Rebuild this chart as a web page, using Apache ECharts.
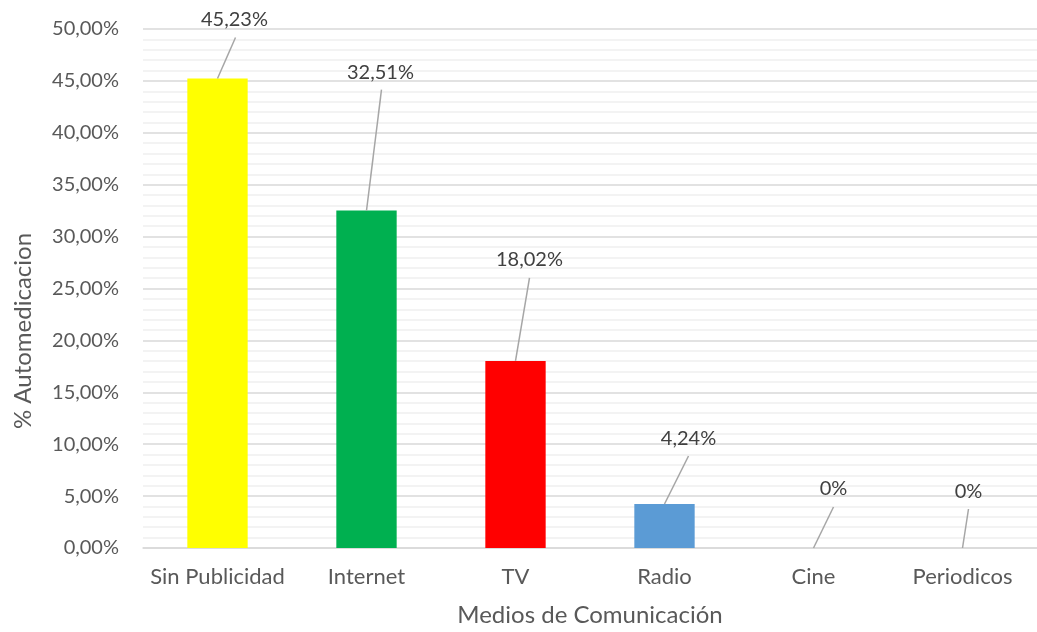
<!DOCTYPE html>
<html>
<head>
<meta charset="utf-8">
<script src="https://cdn.jsdelivr.net/npm/echarts@6/dist/echarts.min.js"></script>
<style>
  html, body { margin: 0; padding: 0; background: #ffffff; }
  #chart { width: 1037px; height: 632px; }
</style>
</head>
<body>
<div id="chart"></div>
<script>
// Medios de comunicación y porcentaje de automedicación
const categories = ['Sin Publicidad', 'Internet', 'TV', 'Radio', 'Cine', 'Periodicos'];
const percentValues = [45.23, 32.51, 18.02, 4.24, 0, 0];
const barColors = ['#FFFF00', '#00B050', '#FF0000', '#5B9BD5', '#5B9BD5', '#5B9BD5'];

// Callout placement relative to the top of each bar: end of leader line and label centre
const calloutOffsets = [
  { lx: 18, ly: -41, tx: 17, ty: -59 },
  { lx: 15, ly: -121, tx: 14, ty: -138 },
  { lx: 14, ly: -83, tx: 14, ty: -101 },
  { lx: 24, ly: -48, tx: 24, ty: -65 },
  { lx: 20, ly: -41, tx: 20, ty: -59 },
  { lx: 6, ly: -39, tx: 6, ty: -56 }
];

const FONT = 'Lato, "Open Sans", sans-serif';

function fmtAxis(v) {
  return v.toFixed(2).replace('.', ',') + '%';
}
function fmtLabel(v) {
  return v === 0 ? '0%' : v.toFixed(2).replace('.', ',') + '%';
}

const chart = echarts.init(document.getElementById('chart'), null, { renderer: 'canvas' });

chart.setOption({
  animation: false,
  backgroundColor: '#ffffff',
  grid: { left: 143, right: -6, top: 29, bottom: 84, containLabel: false },
  xAxis: {
    type: 'category',
    data: categories,
    axisLine: { show: true, lineStyle: { color: '#D9D9D9', width: 1.5 } },
    axisTick: { show: false },
    axisLabel: { interval: 0, color: '#595959', fontSize: 22, fontFamily: FONT, margin: 18 },
    name: 'Medios de Comunicación',
    nameLocation: 'middle',
    nameGap: 55,
    nameTextStyle: { color: '#595959', fontSize: 24, fontFamily: FONT }
  },
  yAxis: {
    type: 'value',
    min: 0,
    max: 50,
    interval: 5,
    axisLine: { show: false },
    axisTick: { show: false },
    axisLabel: { color: '#595959', fontSize: 20, fontFamily: FONT, margin: 24, formatter: fmtAxis },
    splitLine: { show: true, lineStyle: { color: '#D9D9D9', width: 1.5 } },
    minorTick: { show: false, splitNumber: 5 },
    minorSplitLine: { show: true, lineStyle: { color: '#F0F0F0', width: 1.5 } }
  },
  graphic: [{
    type: 'text',
    x: 23,
    y: 331,
    rotation: Math.PI / 2,
    style: {
      text: '% Automedicacion',
      fill: '#595959',
      fontSize: 24,
      fontFamily: FONT,
      align: 'center',
      verticalAlign: 'middle'
    }
  }],
  series: [
    {
      type: 'bar',
      barWidth: '40.5%',
      data: percentValues.map((v, i) => ({ value: v, itemStyle: { color: barColors[i] } })),
      z: 2
    },
    {
      type: 'custom',
      clip: false,
      z: 5,
      data: percentValues.map((v, i) => [i, v]),
      renderItem: function (params, api) {
        const idx = api.value(0);
        const val = api.value(1);
        const p = api.coord([idx, val]);
        const o = calloutOffsets[params.dataIndex];
        return {
          type: 'group',
          children: [
            {
              type: 'line',
              shape: { x1: p[0], y1: p[1], x2: p[0] + o.lx, y2: p[1] + o.ly },
              style: { stroke: '#A6A6A6', lineWidth: 1.5 }
            },
            {
              type: 'text',
              x: p[0] + o.tx,
              y: p[1] + o.ty,
              style: {
                text: fmtLabel(val),
                fill: '#404040',
                fontSize: 20,
                fontFamily: FONT,
                align: 'center',
                verticalAlign: 'middle'
              }
            }
          ]
        };
      }
    }
  ]
});
</script>
</body>
</html>
